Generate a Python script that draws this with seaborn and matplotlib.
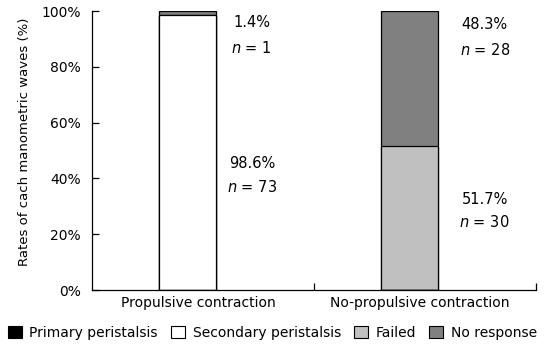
import matplotlib
matplotlib.use("Agg")
import matplotlib.pyplot as plt
from matplotlib.patches import Patch
from matplotlib.ticker import FuncFormatter, FixedLocator
import pandas as pd
import seaborn as sns

# Data: percentage of each manometric wave type per contraction group
categories = ["Propulsive contraction", "No-propulsive contraction"]
series_names = ["Primary peristalsis", "Secondary peristalsis", "Failed", "No response"]
primary = [0.0, 0.0]
secondary = [98.6, 0.0]
failed = [0.0, 51.7]
no_response = [1.4, 48.3]
counts_secondary = [73, 0]
counts_failed = [0, 30]
counts_no_response = [1, 28]
colors = ["#000000", "#ffffff", "#c0c0c0", "#808080"]

sns.set_theme(style="white")
plt.rcParams["font.family"] = ["DejaVu Sans"]
plt.rcParams["text.color"] = "black"
plt.rcParams["axes.labelcolor"] = "black"
plt.rcParams["xtick.color"] = "black"
plt.rcParams["ytick.color"] = "black"

fig = plt.figure(figsize=(5.45, 3.49), dpi=100)
ax = fig.add_axes([0.169, 0.169, 0.814, 0.799])

layers = [primary, secondary, failed, no_response]
cumulative = []
running = [0.0, 0.0]
for layer in layers:
    running = [r + v for r, v in zip(running, layer)]
    cumulative.append(list(running))

# Draw stacked bars from the top layer down so lower segments overlay
for idx in range(len(layers) - 1, -1, -1):
    df = pd.DataFrame({"group": categories, "value": cumulative[idx]})
    sns.barplot(data=df, x="group", y="value", order=categories, color=colors[idx],
                saturation=1, width=0.257, edgecolor="black", linewidth=0.9,
                errorbar=None, ax=ax)

ax.set_xlim(-0.432, 1.568)
ax.set_ylim(0, 100)
ax.set_yticks(range(0, 101, 20))
ax.yaxis.set_major_formatter(FuncFormatter(lambda v, p: f"{int(v)}%"))
ax.set_xticks([0.045, 1.045])
ax.set_xticklabels(categories)
ax.xaxis.set_minor_locator(FixedLocator([0.568, 1.568]))
ax.tick_params(axis="x", which="major", length=0, labelsize=10, pad=4)
ax.tick_params(axis="x", which="minor", length=5, width=0.9, direction="in",
               bottom=True, color="black")
ax.tick_params(axis="y", which="major", length=5, width=0.9, direction="in",
               left=True, labelsize=10, pad=8)
ax.set_xlabel("")
ax.set_ylabel("Rates of cach manometric waves (%)", fontsize=9.5)
ax.yaxis.set_label_coords(-0.137, 0.53)
for side in ["top", "right"]:
    ax.spines[side].set_visible(False)
for side in ["left", "bottom"]:
    ax.spines[side].set_color("black")
    ax.spines[side].set_linewidth(0.9)

# Value annotations beside each segment
def annotate(xpos, ypct, yn, pct, n):
    ax.text(xpos, ypct, f"{pct:.1f}%", ha="center", va="center", fontsize=10.5)
    ax.text(xpos, yn, f"$n$ = {n}", ha="center", va="center", fontsize=10.5)

annotate(0.288, 96.0, 86.7, no_response[0], counts_no_response[0])
annotate(0.288, 45.2, 36.9, secondary[0], counts_secondary[0])
annotate(1.338, 95.3, 86.0, no_response[1], counts_no_response[1])
annotate(1.338, 32.6, 24.4, failed[1], counts_failed[1])

handles = [Patch(facecolor=c, edgecolor="black", linewidth=0.8) for c in colors]
fig.legend(handles, series_names, loc="lower center", bbox_to_anchor=(0.5, -0.01),
           ncol=4, frameon=False, fontsize=10, handlelength=1.0, handleheight=1.0,
           handletextpad=0.55, columnspacing=0.95)

fig.savefig("out.png", dpi=100)
